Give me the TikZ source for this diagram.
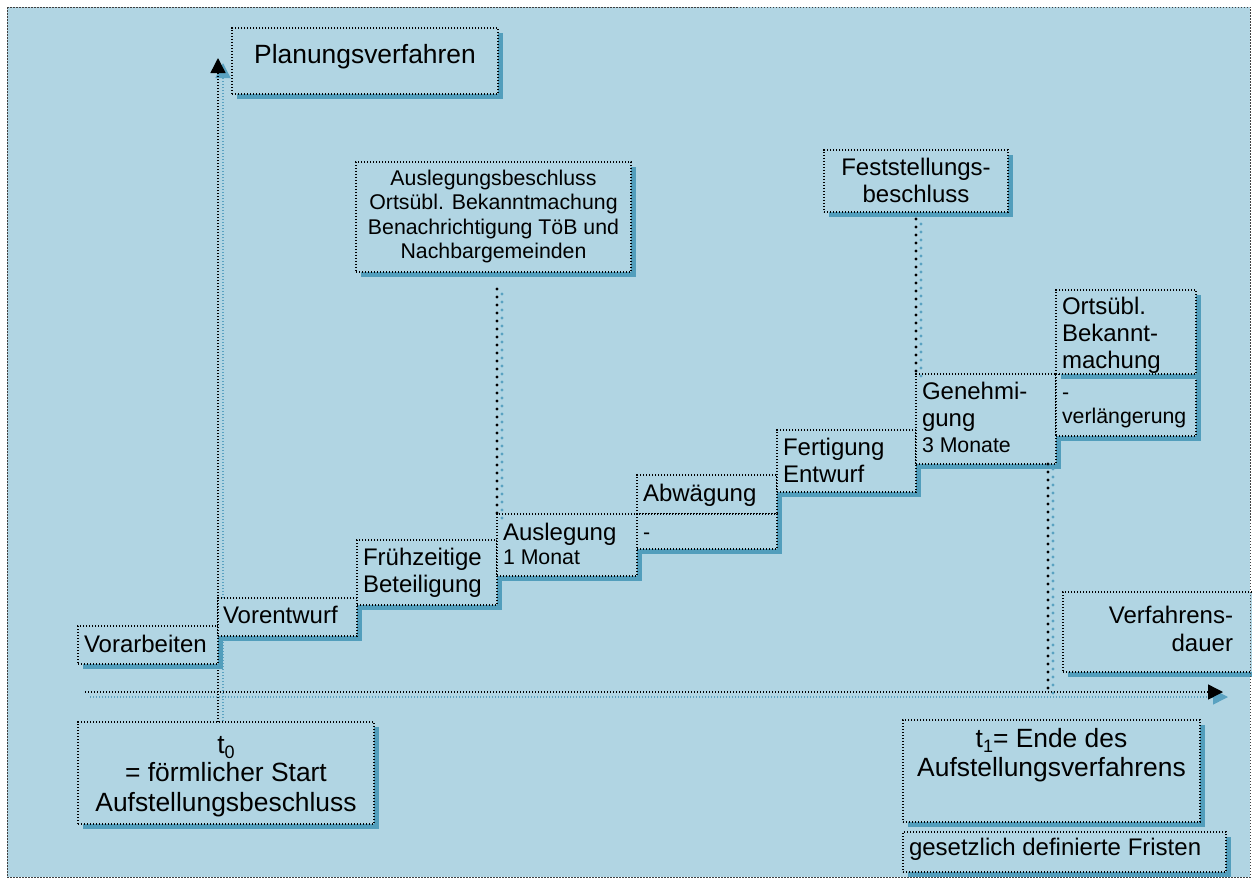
\documentclass[tikz,border=0pt]{standalone}
\usepackage{fontspec}
\setmainfont{Liberation Sans}
\usetikzlibrary{arrows.meta,shadows,calc,decorations.markings}

\definecolor{bgblue}{RGB}{177,213,227}
\definecolor{shblue}{RGB}{82,158,188}
\definecolor{dotblue}{RGB}{90,162,193}

\newcommand\fsbig{\fontsize{26.4}{29.5}\selectfont}
\newcommand\fsmid{\fontsize{24}{27}\selectfont}
\newcommand\fssmall{\fontsize{21.3}{24.5}\selectfont}

\tikzset{
  panel/.style={draw=black, line width=1.1pt, dash pattern=on 1.1pt off 1.9pt,
    fill=bgblue, inner sep=0pt, outer sep=0pt, anchor=north west,
    drop shadow={shadow xshift=5pt, shadow yshift=-5pt, fill=shblue, opacity=1}},
  lbl/.style={inner sep=0pt, outer sep=0pt, text=black},
  axisline/.style={draw=black, line width=1.4pt, dash pattern=on 1.4pt off 1.6pt,
    -{Triangle[length=15pt,width=15pt]}},
  axisshade/.style={axisline, draw=dotblue, transform canvas={xshift=5pt,yshift=-5pt}},
  dotrow/.style={decoration={markings,
      mark=between positions 0 and 1 step 8pt with {\fill[#1] (0,0) circle[radius=1.7pt];}},
    postaction={decorate}},
  leader/.style={dotrow=black},
  leadershade/.style={dotrow=dotblue, transform canvas={xshift=5pt,yshift=-5pt}},
  frame/.style={draw=black!75, line width=1pt, dash pattern=on 1.5pt off 1.5pt}
}

\begin{document}
\begin{tikzpicture}[x=1pt, y=-1pt]
\useasboundingbox (0,0) rectangle (1252,878);
\fill[bgblue] (7,7) rectangle (1250,877);

% time axes
\coordinate (yfoot) at (218,722);
\coordinate (ytip)  at (218,58);
\coordinate (xfoot) at (85,692);
\coordinate (xtip)  at (1223,692);
\draw[axisshade] (yfoot) -- (ytip);
\draw[axisshade] (xfoot) -- (xtip);
\draw[axisline] (yfoot) -- (ytip);
\draw[axisline] (xfoot) -- (xtip);

% title and milestone boxes
\node[panel, minimum width=266pt, minimum height=66pt] (plan) at (232,28) {};
\node[lbl, anchor=base, font=\fsbig] (plan-t) at ([yshift=-35pt]plan.north) {Planungsverfahren};

\node[panel, minimum width=275pt, minimum height=110pt] (ausbeschl) at (356,162) {};
\node[lbl, anchor=base, font=\fssmall] (ausbeschl-t) at ([yshift=-23pt]ausbeschl.north)
  {\begin{tabular}[t]{@{}c@{}}Auslegungsbeschluss\\Ortsübl. Bekanntmachung\\Benachrichtigung TöB und\\Nachbargemeinden\end{tabular}};

\node[panel, minimum width=184pt, minimum height=62pt] (fest) at (824,150) {};
\node[lbl, anchor=base, font=\fsmid] (fest-t) at ([yshift=-25pt]fest.north)
  {\begin{tabular}[t]{@{}c@{}}Feststellungs-\\beschluss\end{tabular}};

% the steps of the procedure
\node[panel, minimum width=140pt, minimum height=38pt] (vorarb) at (78,626) {};
\node[lbl, anchor=base west, font=\fsmid] (vorarb-t) at ([shift={(6,26.5)}]vorarb.north west) {Vorarbeiten};

\node[panel, minimum width=139pt, minimum height=38pt] (vorent) at (218,598) {};
\node[lbl, anchor=base west, font=\fsmid] (vorent-t) at ([shift={(5,25.5)}]vorent.north west) {Vorentwurf};

\node[panel, minimum width=140pt, minimum height=65pt] (frueh) at (357,540) {};
\node[lbl, anchor=base west, font=\fsmid] (frueh-t) at ([shift={(6,25.5)}]frueh.north west)
  {\begin{tabular}[t]{@{}l@{}}Frühzeitige\\Beteiligung\end{tabular}};

\node[panel, minimum width=140pt, minimum height=62pt] (ausleg) at (497,514) {};
\node[lbl, anchor=base west, font=\fsmid] (ausleg-t) at ([shift={(6,26)}]ausleg.north west)
  {\begin{tabular}[t]{@{}l@{}}Auslegung\\[-3pt]{\fssmall 1 Monat}\end{tabular}};

\node[panel, minimum width=140pt, minimum height=39pt] (abw) at (637,475) {};
\node[lbl, anchor=base west, font=\fsmid] (abw-t) at ([shift={(6,26.5)}]abw.north west) {Abwägung};

\node[panel, minimum width=140pt, minimum height=35pt] (gap) at (637,514) {};
\node[lbl, anchor=base west, font=\fssmall] (gap-t) at ([shift={(6,25)}]gap.north west) {-};

\node[panel, minimum width=139pt, minimum height=62pt] (fert) at (777,430) {};
\node[lbl, anchor=base west, font=\fsmid] (fert-t) at ([shift={(6,25.5)}]fert.north west)
  {\begin{tabular}[t]{@{}l@{}}Fertigung\\Entwurf\end{tabular}};

\node[panel, minimum width=140pt, minimum height=90pt] (genehm) at (916,374) {};
\node[lbl, anchor=base west, font=\fsmid] (genehm-t) at ([shift={(6,25)}]genehm.north west)
  {\begin{tabular}[t]{@{}l@{}}Genehmi-\\gung\\[-1pt]{\fssmall 3 Monate}\end{tabular}};

\node[panel, minimum width=140pt, minimum height=62pt] (verl) at (1056,374) {};
\node[lbl, anchor=base west, font=\fssmall] (verl-t) at ([shift={(6,25)}]verl.north west)
  {\begin{tabular}[t]{@{}l@{}}-\\[-0.5pt]verlängerung\end{tabular}};

\node[panel, minimum width=140pt, minimum height=84pt] (orts) at (1056,290) {};
\node[lbl, anchor=base west, font=\fsmid] (orts-t) at ([shift={(6,24)}]orts.north west)
  {\begin{tabular}[t]{@{}l@{}}Ortsübl.\\Bekannt-\\machung\end{tabular}};

% duration and end markers
\node[panel, minimum width=200pt, minimum height=80pt] (dauer) at (1063,592) {};
\node[lbl, anchor=base east, font=\fsmid] (dauer-t) at ([shift={(170,31)}]dauer.north west)
  {\begin{tabular}[t]{@{}r@{}}Verfahrens-\\[1pt]dauer\end{tabular}};

\node[panel, minimum width=296pt, minimum height=102pt] (t0) at (78,722) {};
\node[lbl, anchor=base, font=\fsbig] (t0-t) at ([yshift=-31pt]t0.north)
  {\begin{tabular}[t]{@{}c@{}}t\raisebox{-0.22em}{\fontsize{18}{18}\selectfont 0}\\[-1pt]= förmlicher Start\\Aufstellungsbeschluss\end{tabular}};

\node[panel, minimum width=297pt, minimum height=102pt] (t1) at (903,720) {};
\node[lbl, anchor=base, font=\fsbig] (t1-t) at ([yshift=-27pt]t1.north)
  {\begin{tabular}[t]{@{}c@{}}t\raisebox{-0.22em}{\fontsize{18}{18}\selectfont 1}= Ende des\\Aufstellungsverfahrens\end{tabular}};

\node[panel, minimum width=323pt, minimum height=40pt] (frist) at (903,832) {};
\node[lbl, anchor=base west, font=\fsmid] (frist-t) at ([shift={(6,23)}]frist.north west) {gesetzlich definierte Fristen};

% dotted leaders from the milestones
\coordinate (lead1) at ($(ausleg.north west |- ausbeschl.south)+(0,17)$);
\coordinate (lead2) at ($(fest.south)+(0,7)$);
\coordinate (lead3) at ($(genehm.south east)+(-8,0)$);
\coordinate (lead3end) at (lead3 |- xfoot);
\path[leadershade] (lead1) -- (ausleg.north west);
\path[leadershade] (lead2) -- (genehm.north west);
\path[leadershade] (lead3) -- (lead3end);
\path[leader] (lead1) -- (ausleg.north west);
\path[leader] (lead2) -- (genehm.north west);
\path[leader] (lead3) -- (lead3end);

\draw[frame] (7,7) rectangle (1250,877);
\end{tikzpicture}
\end{document}
